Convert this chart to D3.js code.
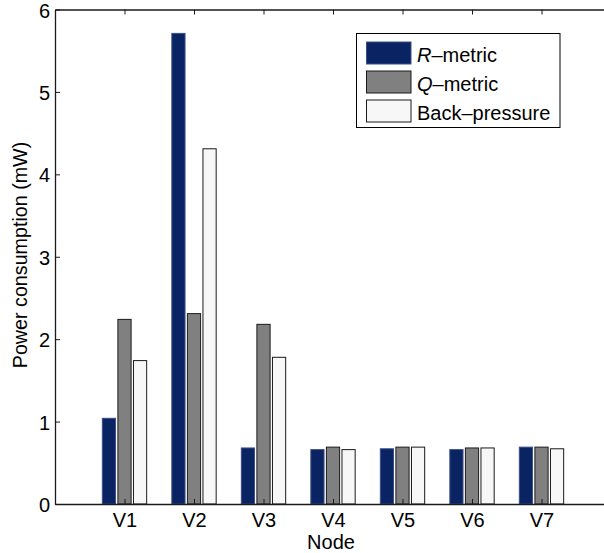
<!DOCTYPE html>
<html>
<head>
<meta charset="utf-8">
<script src="https://cdn.jsdelivr.net/npm/d3@7"></script>
<style>
  body { margin: 0; background: #fff; }
  svg text { font-family: "Liberation Sans", Arial, sans-serif; fill: #000; }
</style>
</head>
<body>
<div id="chart"></div>
<script>
// node names on the x axis
var nodes = ["V1", "V2", "V3", "V4", "V5", "V6", "V7"];

// power consumption (mW) per node, one array per scheme
var rMetric = [1.04, 5.71, 0.68, 0.66, 0.67, 0.66, 0.69];
var qMetric = [2.24, 2.31, 2.18, 0.69, 0.69, 0.68, 0.69];
var backPressure = [1.74, 4.31, 1.78, 0.66, 0.69, 0.68, 0.67];

var yTicks = [0, 1, 2, 3, 4, 5, 6];

var seriesNames = ["R", "Q", "Back–pressure"];
var seriesColors = ["#0a2463", "#808080", "#f7f7f7"];
var seriesEdges = ["#3c4f85", "#1a1a1a", "#1a1a1a"];
var seriesValues = [rMetric, qMetric, backPressure];

var svgWidth = 604;
var svgHeight = 553;

// plot box (right side runs past the window, like the original figure)
// note: can't call these top/left etc, window.top is read-only
var box = { left: 55, top: 9.5, right: 611, bottom: 504 };

var svg = d3.select("#chart").append("svg")
  .attr("width", svgWidth)
  .attr("height", svgHeight);

var x = d3.scaleLinear().domain([0, 8]).range([box.left, box.right]);
var y = d3.scaleLinear().domain([0, 6]).range([box.bottom, box.top]);

// bars: 3 per node, offset around the node position
var barW = 0.19;
var pitch = 0.224;
seriesValues.forEach(function(vals, j) {
  svg.append("g").selectAll("rect")
    .data(vals)
    .enter()
    .append("rect")
    .attr("x", function(d, i) { return x(i + 1 + (j - 1) * pitch - barW / 2); })
    .attr("width", x(barW) - x(0))
    .attr("y", function(d) { return y(d); })
    .attr("height", function(d) { return y(0) - y(d); })
    .attr("fill", seriesColors[j])
    .attr("stroke", seriesEdges[j])
    .attr("stroke-width", 1);
});

// axes
var fontSize = "20px";

var leftAxis = d3.axisLeft(y).tickValues(yTicks).tickFormat(d3.format("d"))
  .tickSize(-5).tickSizeOuter(0).tickPadding(5);
var gl = svg.append("g").attr("transform", "translate(" + box.left + ",0)").call(leftAxis);
gl.selectAll(".tick text").attr("dy", "0.38em");

var bottomAxis = d3.axisBottom(x).tickValues(d3.range(1, 8))
  .tickFormat(function(d) { return nodes[d - 1]; })
  .tickSize(-5).tickSizeOuter(0).tickPadding(9);
var gb = svg.append("g").attr("transform", "translate(0," + box.bottom + ")").call(bottomAxis);

var topAxis = d3.axisTop(x).tickValues(d3.range(1, 8)).tickFormat("")
  .tickSize(-5).tickSizeOuter(0);
var gt = svg.append("g").attr("transform", "translate(0," + box.top + ")").call(topAxis);

[gl, gb, gt].forEach(function(g) {
  g.selectAll("path.domain").attr("stroke", "#1a1a1a").attr("stroke-width", 1.3);
  g.selectAll(".tick line").attr("stroke", "#1a1a1a");
  g.selectAll("text").style("font-size", fontSize).attr("fill", "#000");
});

// axis titles
svg.append("text")
  .attr("x", 331)
  .attr("y", 549)
  .attr("text-anchor", "middle")
  .style("font-size", fontSize)
  .text("Node");

svg.append("text")
  .attr("transform", "translate(27,255) rotate(-90)")
  .attr("text-anchor", "middle")
  .style("font-size", "19.7px")
  .text("Power consumption (mW)");

// legend
var legend = svg.append("g");
legend.append("rect")
  .attr("x", 356.5).attr("y", 33.5)
  .attr("width", 203.5).attr("height", 94)
  .attr("fill", "#fff")
  .attr("stroke", "#000")
  .attr("stroke-width", 1);

seriesNames.forEach(function(name, j) {
  var ry = 42 + j * 29;
  legend.append("rect")
    .attr("x", 366.5).attr("y", ry)
    .attr("width", 44.5).attr("height", 22)
    .attr("fill", seriesColors[j])
    .attr("stroke", seriesEdges[j])
    .attr("stroke-width", 1);
  var t = legend.append("text")
    .attr("x", 417).attr("y", ry + 19.5)
    .style("font-size", fontSize);
  if (j < 2) {
    t.append("tspan").style("font-style", "italic").text(name);
    t.append("tspan").text("–metric");
  } else {
    t.text(name);
  }
});
</script>
</body>
</html>
